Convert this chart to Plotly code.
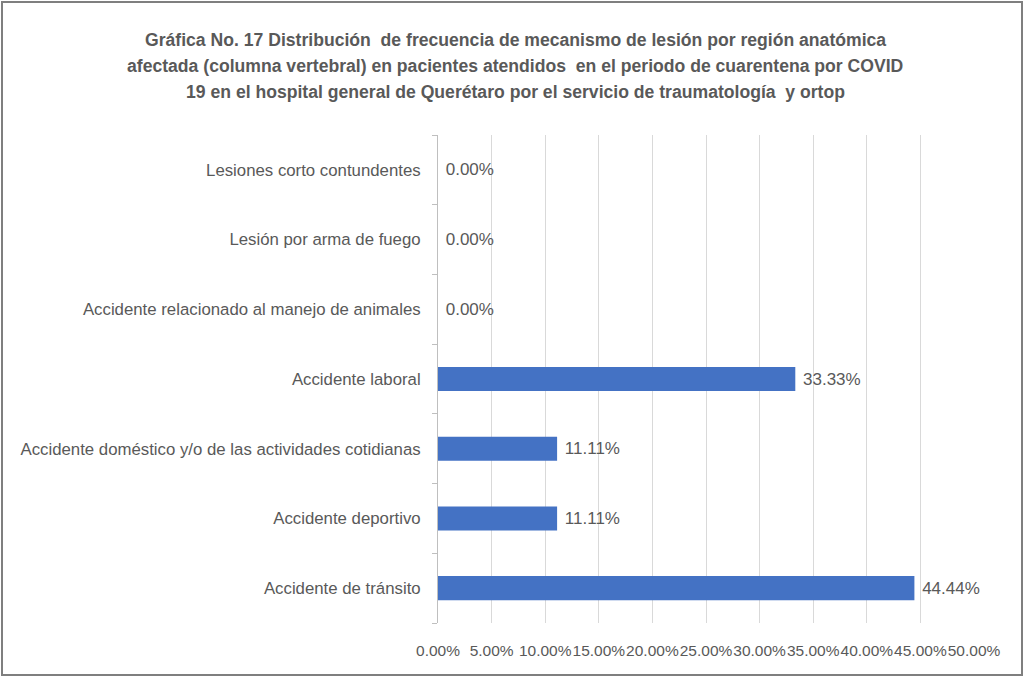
import plotly.graph_objects as go

categories = [
    "Accidente de tránsito",
    "Accidente deportivo",
    "Accidente doméstico y/o de las actividades cotidianas",
    "Accidente laboral",
    "Accidente relacionado al manejo de animales",
    "Lesión por arma de fuego",
    "Lesiones corto contundentes",
]
values = [0.4444, 0.1111, 0.1111, 0.3333, 0.0, 0.0, 0.0]
tick_vals = [i * 0.05 for i in range(11)]
title_lines = [
    "Gráfica No. 17 Distribución  de frecuencia de mecanismo de lesión por región anatómica",
    "afectada (columna vertebral) en pacientes atendidos  en el periodo de cuarentena por COVID",
    "19 en el hospital general de Querétaro por el servicio de traumatología  y ortop",
]

W, H = 1025, 677
L, R, T, B = 438, 51, 135, 54
pw, ph = W - L - R, H - T - B

def px(x):
    return (x - L) / pw

def py(y):
    return (H - B - y) / ph

gray = "#595959"
FONT = "Liberation Sans"
fig = go.Figure(go.Bar(
    y=categories, x=values, orientation="h",
    marker=dict(color="#4472C4", line=dict(width=0)),
    width=0.345,
    text=[f" {v*100:.2f}%" for v in values],
    textposition="outside", cliponaxis=False,
    textfont=dict(family=FONT, size=17, color=gray),
))

fig.update_layout(
    width=W, height=H,
    margin=dict(l=L, r=R, t=T, b=B, autoexpand=False),
    paper_bgcolor="white", plot_bgcolor="white",
    showlegend=False,
    font=dict(family=FONT, color=gray, size=16),
    xaxis=dict(
        range=[0, 0.5], tickvals=tick_vals, tickformat=".2%",
        showgrid=True, gridcolor="#d9d9d9", gridwidth=1,
        zeroline=False, showline=False, ticks="", tickangle=0,
        automargin=False,
        tickfont=dict(size=15.5, color=gray), ticklabelstandoff=16,
    ),
    yaxis=dict(
        type="category", categoryorder="array", categoryarray=categories,
        showline=True, linecolor="#bfbfbf", linewidth=1,
        ticks="outside", ticklen=5, tickcolor="#bfbfbf", tickson="boundaries",
        showgrid=False, tickfont=dict(size=16.8, color=gray), ticklabelstandoff=13,
        automargin=False,
    ),
    bargap=0.655,
)

ys = [40, 66, 92]
for line, yv in zip(title_lines, ys):
    fig.add_annotation(
        text=f"<b>{line}</b>", xref="paper", yref="paper",
        x=px(515), y=py(yv), xanchor="center", yanchor="middle",
        showarrow=False,
        font=dict(family=FONT, size=17.6, color=gray),
    )

fig.add_shape(
    type="rect", xref="paper", yref="paper",
    x0=px(2), x1=px(1022), y0=py(675), y1=py(2),
    line=dict(color="#7f7f7f", width=2), fillcolor="rgba(0,0,0,0)", layer="below",
)

fig.write_html("out.html")
